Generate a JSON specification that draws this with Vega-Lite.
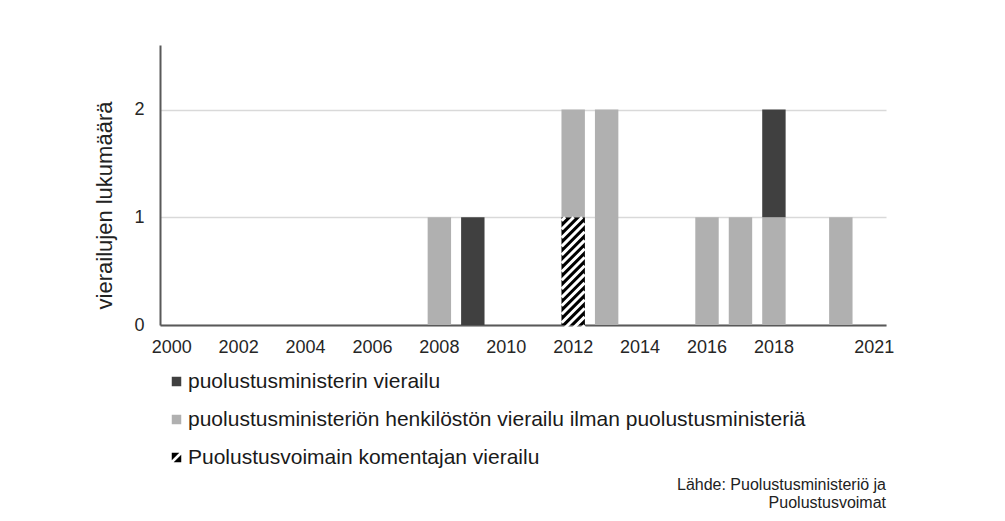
{
  "$schema": "https://vega.github.io/schema/vega-lite/v6.json",
  "width": 726,
  "height": 280,
  "autosize": {"type": "none"},
  "padding": {"left": 160, "top": 45, "right": 119, "bottom": 196},
  "background": "white",
  "config": {"font": "Liberation Sans", "view": {"stroke": null}},
  "title": {
    "text": ["Lähde: Puolustusministeriö ja", "Puolustusvoimat"],
    "orient": "bottom",
    "anchor": "end",
    "frame": "group",
    "align": "right",
    "fontSize": 16,
    "fontWeight": "normal",
    "color": "#222222",
    "lineHeight": 18,
    "offset": 9
  },
  "data": {
    "values": [
      {"year": 2008, "category": "puolustusministeriön henkilöstön vierailu ilman puolustusministeriä", "count": 1},
      {"year": 2009, "category": "puolustusministerin vierailu", "count": 1},
      {"year": 2012, "category": "Puolustusvoimain komentajan vierailu", "count": 1},
      {"year": 2012, "category": "puolustusministeriön henkilöstön vierailu ilman puolustusministeriä", "count": 1},
      {"year": 2013, "category": "puolustusministeriön henkilöstön vierailu ilman puolustusministeriä", "count": 2},
      {"year": 2016, "category": "puolustusministeriön henkilöstön vierailu ilman puolustusministeriä", "count": 1},
      {"year": 2017, "category": "puolustusministeriön henkilöstön vierailu ilman puolustusministeriä", "count": 1},
      {"year": 2018, "category": "puolustusministeriön henkilöstön vierailu ilman puolustusministeriä", "count": 1},
      {"year": 2018, "category": "puolustusministerin vierailu", "count": 1},
      {"year": 2020, "category": "puolustusministeriön henkilöstön vierailu ilman puolustusministeriä", "count": 1}
    ]
  },
  "transform": [
    {"calculate": "indexof(['Puolustusvoimain komentajan vierailu', 'puolustusministeriön henkilöstön vierailu ilman puolustusministeriä', 'puolustusministerin vierailu'], datum.category)", "as": "stackOrder"}
  ],
  "layer": [
    {
      "mark": {"type": "bar"},
      "encoding": {
        "x": {
          "field": "year",
          "type": "ordinal",
          "scale": {
            "domain": [2000, 2001, 2002, 2003, 2004, 2005, 2006, 2007, 2008, 2009, 2010, 2011, 2012, 2013, 2014, 2015, 2016, 2017, 2018, 2019, 2020, 2021],
            "paddingInner": 0.3,
            "paddingOuter": 0
          },
          "axis": {
            "title": null,
            "labelExpr": "(datum.value <= 2018 && datum.value % 2 == 0) || datum.value == 2021 ? datum.label : ''",
            "ticks": false,
            "domainColor": "#595959",
            "domainWidth": 2,
            "labelFontSize": 18,
            "labelColor": "#262626",
            "labelAngle": 0,
            "labelPadding": 13,
            "grid": false
          }
        },
        "y": {
          "field": "count",
          "type": "quantitative",
          "stack": "zero",
          "scale": {"domain": [0, 2.5]},
          "axis": {
            "title": "vierailujen lukumäärä",
            "values": [0, 1, 2],
            "format": "d",
            "ticks": false,
            "domainColor": "#595959",
            "domainWidth": 2,
            "grid": true,
            "gridColor": "#d9d9d9",
            "gridWidth": 1.5,
            "labelFontSize": 18,
            "labelColor": "#262626",
            "labelPadding": 16,
            "titleFontSize": 22,
            "titleFontWeight": "normal",
            "titleColor": "#222222",
            "titlePadding": 17,
            "titleY": 160
          }
        },
        "color": {
          "field": "category",
          "type": "nominal",
          "scale": {
            "domain": ["puolustusministerin vierailu", "puolustusministeriön henkilöstön vierailu ilman puolustusministeriä", "Puolustusvoimain komentajan vierailu"],
            "range": ["#404040", "#b0b0b0", "#000000"]
          },
          "legend": {
            "title": null,
            "orient": "none",
            "legendX": 6,
            "legendY": 326,
            "direction": "vertical",
            "labelFontSize": 21,
            "labelColor": "#1a1a1a",
            "symbolType": "square",
            "symbolSize": 90,
            "symbolStrokeWidth": 0,
            "rowPadding": 16,
            "labelLimit": 0,
            "labelOffset": 1,
            "encode": {
              "symbols": {
                "update": {
                  "shape": {"signal": "datum.value === 'Puolustusvoimain komentajan vierailu' ? 'M-1,-1L0.6,-1L-1,0.6ZM1,1L-0.6,1L1,-0.6Z' : 'square'"}
                }
              }
            }
          }
        },
        "order": {"field": "stackOrder", "type": "quantitative"}
      }
    },
    {
      "transform": [{"filter": "datum.category === 'Puolustusvoimain komentajan vierailu'"}],
      "mark": {
        "type": "point",
        "shape": "M-0.205,0.0625L-0.143,0M-0.205,0.214L0.009,0M-0.205,0.366L0.161,0M-0.205,0.518L0.205,0.107M-0.205,0.670L0.205,0.259M-0.205,0.821L0.205,0.411M-0.205,0.973L0.205,0.5625M-0.205,1.125L0.205,0.714M-0.205,1.277L0.205,0.866M-0.205,1.429L0.205,1.018M-0.205,1.580L0.205,1.170M-0.205,1.732L0.205,1.321M-0.205,1.884L0.205,1.473M-0.170,2L0.205,1.625M-0.018,2L0.205,1.777M0.134,2L0.205,1.929",
        "size": 12544,
        "filled": false,
        "stroke": "white",
        "strokeWidth": 3,
        "opacity": 1
      },
      "encoding": {
        "x": {"field": "year", "type": "ordinal"},
        "y": {"field": "count", "type": "quantitative"}
      }
    }
  ]
}
